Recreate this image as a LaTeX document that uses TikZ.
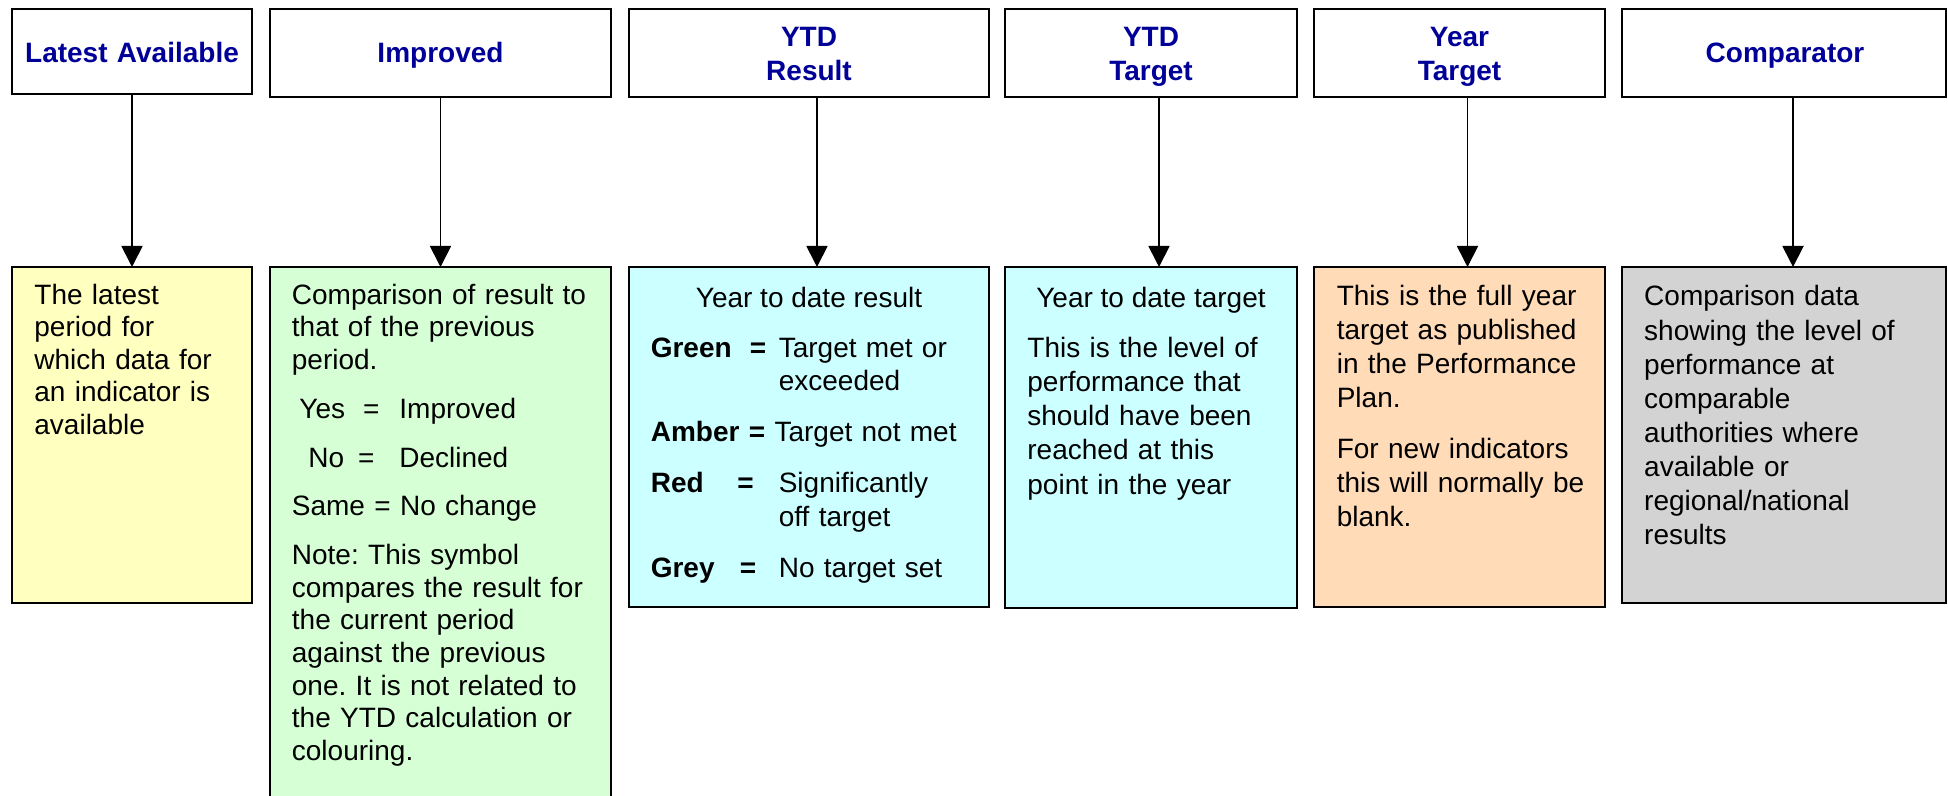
\documentclass[tikz,border=0pt]{standalone}
\usepackage{fontspec}
\setmainfont{Liberation Sans}
\usetikzlibrary{arrows.meta,calc}
\definecolor{hdrblue}{HTML}{000099}
\definecolor{fillyellow}{HTML}{FFFFC0}
\definecolor{fillgreen}{HTML}{D6FFD6}
\definecolor{fillcyan}{HTML}{CCFFFF}
\definecolor{fillpeach}{HTML}{FFDBB7}
\definecolor{fillgrey}{HTML}{D3D3D3}
\frenchspacing
\begin{document}
\begin{tikzpicture}[x=0.5pt,y=-0.5pt,
  hdrbox/.style={draw=black, line width=1pt, fill=white, rectangle, inner sep=0pt, outer sep=0pt, anchor=north west, minimum height=43.85pt},
  infobox/.style={draw=black, line width=1pt, rectangle, inner sep=0pt, outer sep=0pt, anchor=north west},
  hdrtext/.style={inner sep=0pt, anchor=base, font=\fontsize{14}{17.15}\selectfont\bfseries, text=hdrblue, align=center, text width=150pt},
  bodytext/.style={inner sep=0pt, anchor=base west, align=left, text width=#1},
  conn/.style={draw=black, line width=0.9pt, -{Triangle[length=10.5pt,width=10.5pt]}}
]
\path[use as bounding box, clip] (0,0) rectangle (1948,796);
\fill[white] (0,0) rectangle (1948,796);

% header boxes
\node[hdrbox, minimum width=120pt, minimum height=42.5pt] (h1) at (12,9.3) {};
\node[hdrbox, minimum width=170.5pt] (h2) at (270,9.3) {};
\node[hdrbox, minimum width=180pt] (h3) at (629,9.3) {};
\node[hdrbox, minimum width=146pt] (h4) at (1005,9.3) {};
\node[hdrbox, minimum width=145.5pt] (h5) at (1314,9.3) {};
\node[hdrbox, minimum width=162pt] (h6) at (1622,9.3) {};

\node[hdrtext] (h1t) at (132,63) {Latest Available};
\node[hdrtext] (h2t) at (440.5,63) {Improved};
\node[hdrtext] (h3t) at (809,46.7) {YTD\\Result};
\node[hdrtext] (h4t) at (1151,46.7) {YTD\\Target};
\node[hdrtext] (h5t) at (1459.5,46.7) {Year\\Target};
\node[hdrtext] (h6t) at (1785,63) {Comparator};

% information boxes
\node[infobox, fill=fillyellow, minimum width=120pt, minimum height=168pt] (b1) at (12,267) {};
\node[infobox, fill=fillgreen, minimum width=170.5pt, minimum height=276.5pt] (b2) at (270,267) {};
\node[infobox, fill=fillcyan, minimum width=180pt, minimum height=170pt] (b3) at (629,267) {};
\node[infobox, fill=fillcyan, minimum width=146pt, minimum height=170.5pt] (b4) at (1005,267) {};
\node[infobox, fill=fillpeach, minimum width=145.5pt, minimum height=170pt] (b5) at (1314,267) {};
\node[infobox, fill=fillgrey, minimum width=162pt, minimum height=168pt] (b6) at (1622,267) {};

% connectors
\draw[conn] (h1.south) -- (b1.north);
\draw[conn] (h2.south) -- (b2.north);
\draw[conn] ($(h3.south)+(8,0)$) -- ($(b3.north)+(8,0)$);
\draw[conn] ($(h4.south)+(8,0)$) -- ($(b4.north)+(8,0)$);
\draw[conn] ($(h5.south)+(8,0)$) -- ($(b5.north)+(8,0)$);
\draw[conn] ($(h6.south)+(9,0)$) -- ($(b6.north)+(9,0)$);

% texts
\node[bodytext=105pt, font=\fontsize{14}{16.25}\selectfont] (b1t) at (34,304.3)
  {The latest\\period for\\which data for\\an indicator is\\available};

\node[bodytext=158pt, font=\fontsize{14}{16.3}\selectfont] (b2t) at (291.5,304.3)
  {Comparison of result to\\
   that of the previous\\
   period.\\[8.1pt]
   \makebox[0pt][l]{\hspace*{3.75pt}Yes}\makebox[0pt][l]{\hspace*{35.65pt}=}\hspace*{53.75pt}Improved\\[8.1pt]
   \makebox[0pt][l]{\hspace*{8.25pt}No}\makebox[0pt][l]{\hspace*{33.15pt}=}\hspace*{53.75pt}Declined\\[8.1pt]
   Same = No change\\[8.1pt]
   Note: This symbol\\
   compares the result for\\
   the current period\\
   against the previous\\
   one. It is not related to\\
   the YTD calculation or\\
   colouring.};

\node[inner sep=0pt, anchor=base, font=\fontsize{14}{16.7}\selectfont] (b3h) at (809,307.3) {Year to date result};
\node[bodytext=166pt, font=\fontsize{14}{16.7}\selectfont] (b3t) at (650.4,357.3)
  {\makebox[0pt][l]{\textbf{Green}}\makebox[0pt][l]{\hspace*{49.5pt}\textbf{=}}\hspace*{64pt}Target met or\\
   \hspace*{64pt}exceeded\\[8.8pt]
   \textbf{Amber =} Target not met\\[8.8pt]
   \makebox[0pt][l]{\textbf{Red}}\makebox[0pt][l]{\hspace*{43.3pt}\textbf{=}}\hspace*{64pt}Significantly\\
   \hspace*{64pt}off target\\[8.8pt]
   \makebox[0pt][l]{\textbf{Grey}}\makebox[0pt][l]{\hspace*{44.6pt}\textbf{=}}\hspace*{64pt}No target set};

\node[inner sep=0pt, anchor=base, font=\fontsize{14}{17.1}\selectfont] (b4h) at (1151,307.3) {Year to date target};
\node[bodytext=132pt, font=\fontsize{14}{17.1}\selectfont] (b4t) at (1027,357.3)
  {This is the level of\\performance that\\should have been\\reached at this\\point in the year};

\node[bodytext=132pt, font=\fontsize{14}{17}\selectfont] (b5t) at (1336.4,306)
  {This is the full year\\target as published\\in the Performance\\Plan.\\[8.5pt]
   For new indicators\\this will normally be\\blank.};

\node[bodytext=148pt, font=\fontsize{14}{17.05}\selectfont] (b6t) at (1643.8,306)
  {Comparison data\\showing the level of\\performance at\\comparable\\authorities where\\available or\\regional/national\\results};
\end{tikzpicture}
\end{document}
